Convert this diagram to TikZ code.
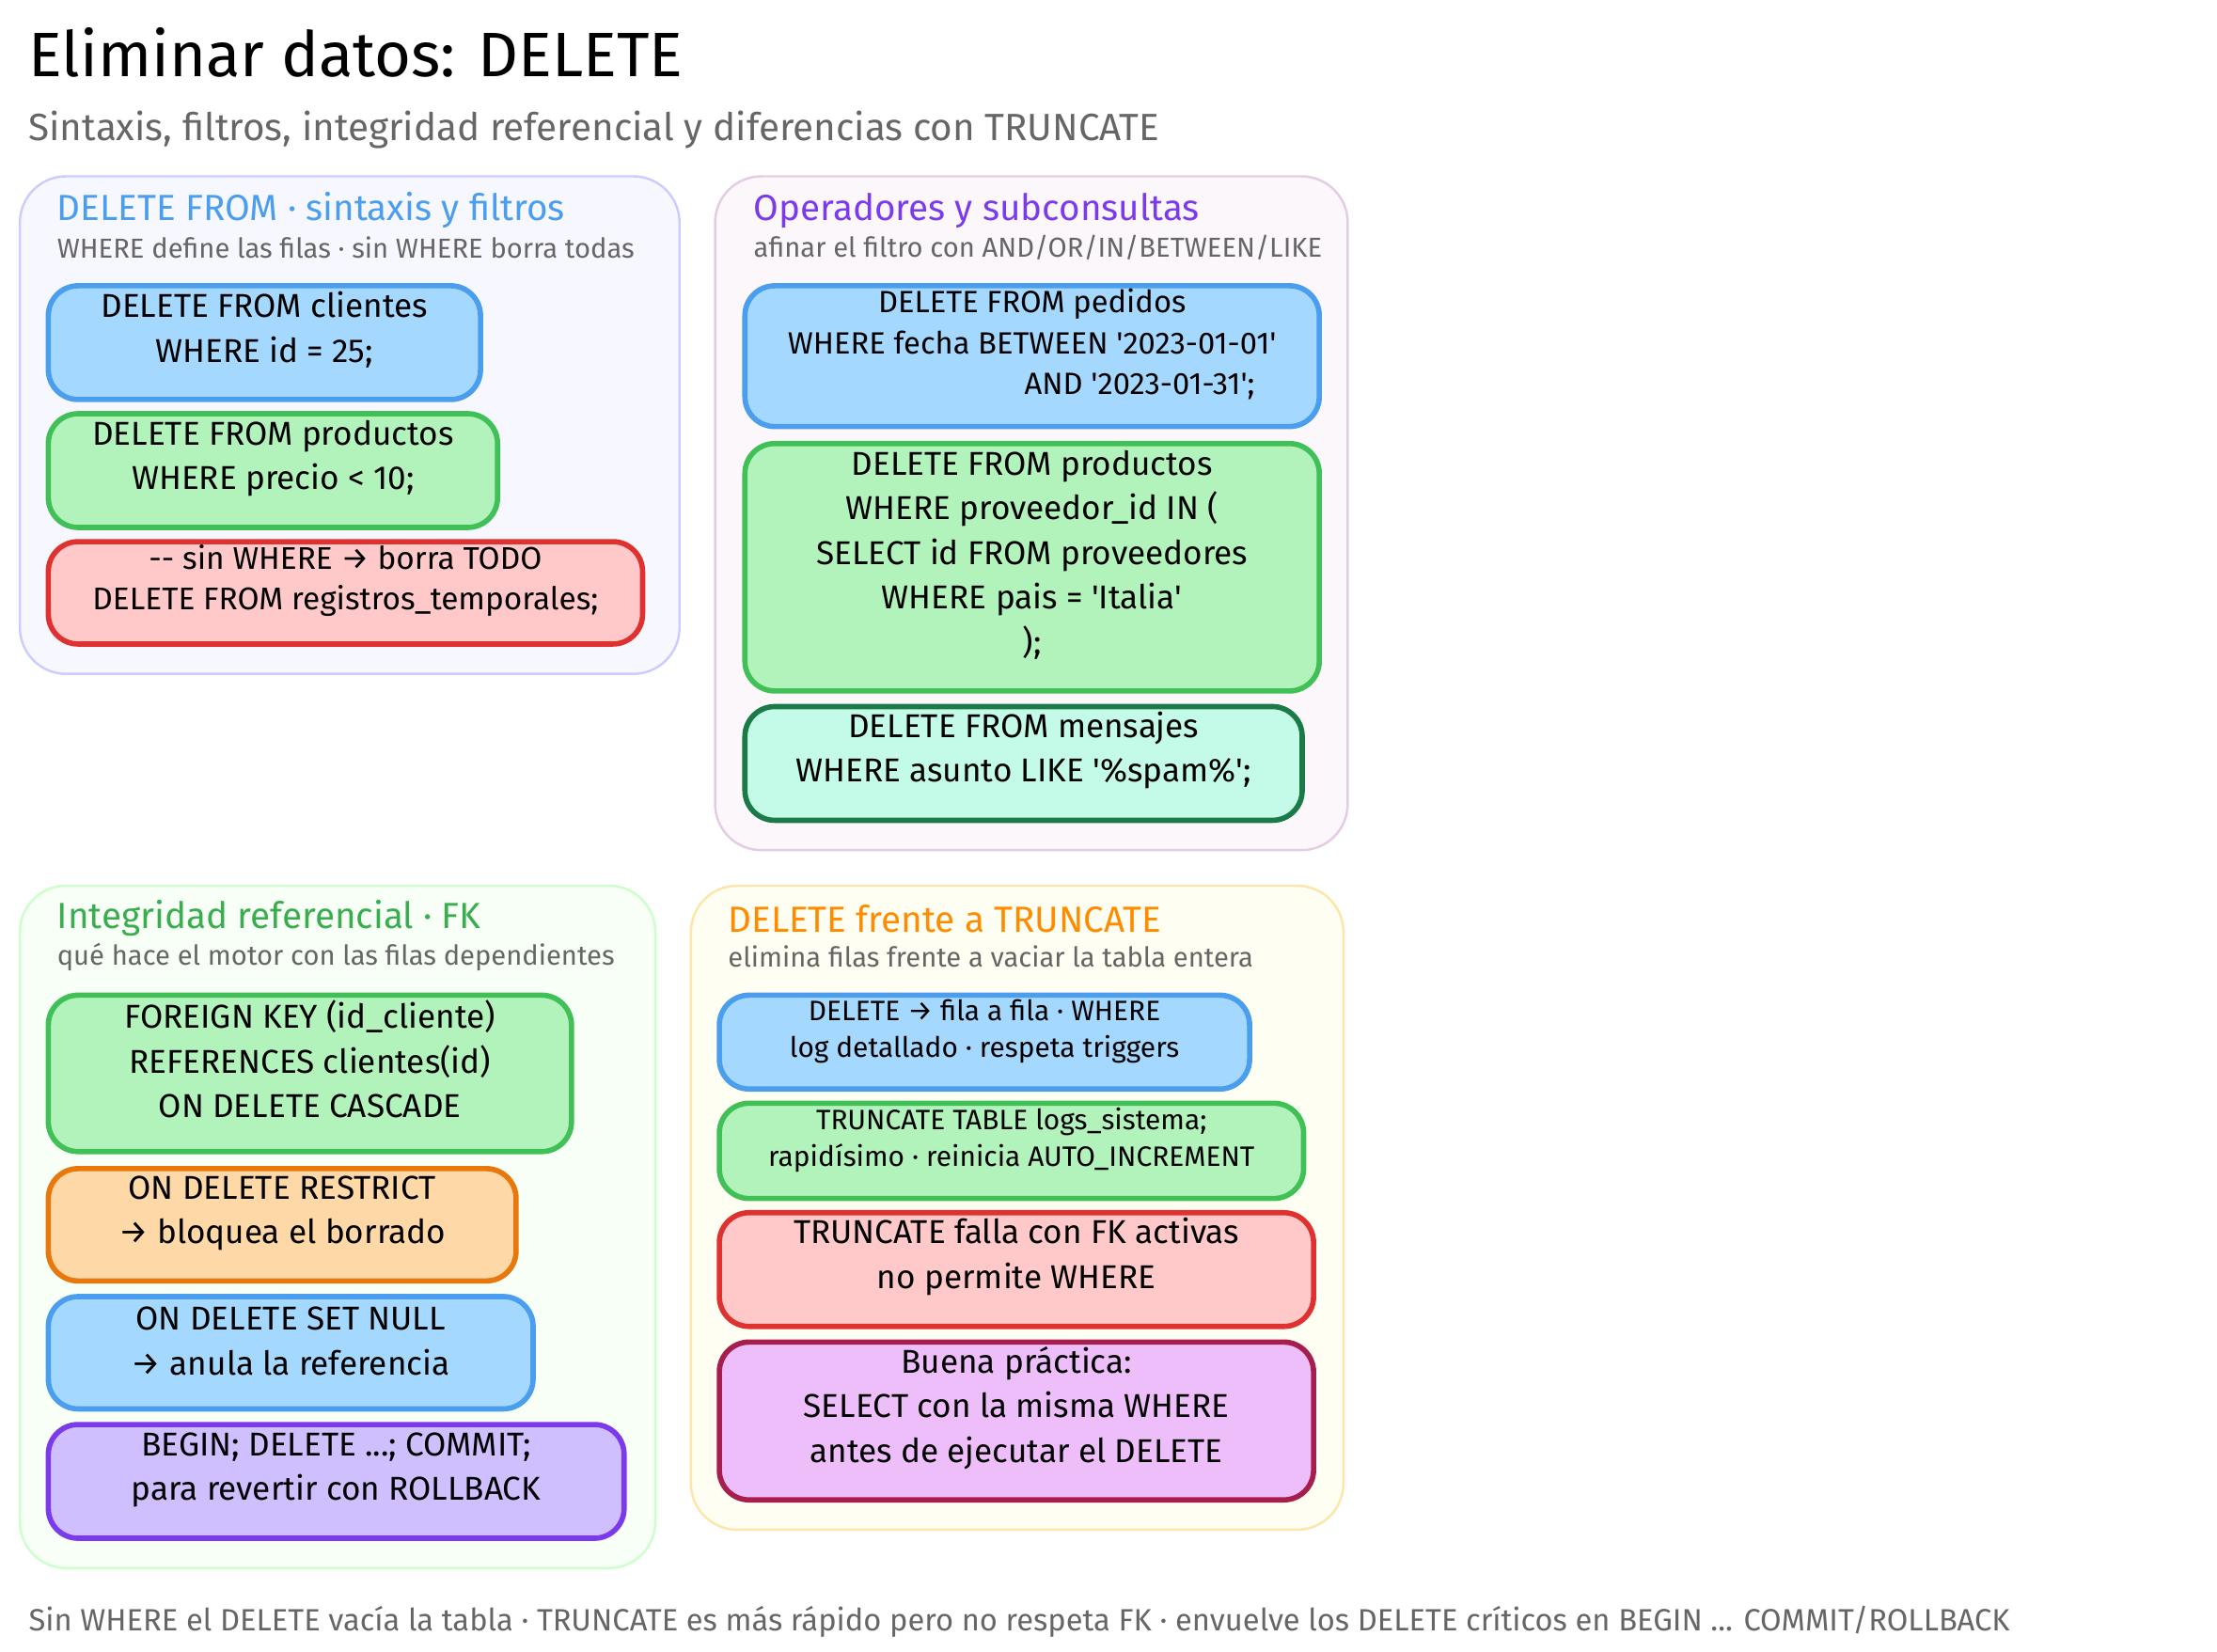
\documentclass[tikz,border=0pt]{standalone}
\usepackage{fontspec}
\setmainfont{Fira Sans}
\usetikzlibrary{fit}

\definecolor{bluefill}{HTML}{A5D8FF}\definecolor{blueline}{HTML}{4A9EED}
\definecolor{greenfill}{HTML}{B2F2BB}\definecolor{greenline}{HTML}{40C057}
\definecolor{redfill}{HTML}{FFC9C9}\definecolor{redline}{HTML}{E03131}
\definecolor{tealfill}{HTML}{C3FAE8}\definecolor{tealline}{HTML}{1B7A47}
\definecolor{orangefill}{HTML}{FFD8A8}\definecolor{orangeline}{HTML}{E8770C}
\definecolor{purplefill}{HTML}{D0BFFF}\definecolor{purpleline}{HTML}{7C3AED}
\definecolor{pinkfill}{HTML}{EEBEFA}\definecolor{pinkline}{HTML}{A61E4D}
\definecolor{txtgray}{HTML}{666666}
\newcommand{\qt}{{\XeTeXglyph\XeTeXcharglyph"0027\relax}}

\tikzset{
  panel/.style={inner sep=0pt, rounded corners=14pt, line width=0.7pt},
  card/.style={inner sep=0pt, rounded corners=9pt, line width=1.6pt, align=center, font=\fontsize{10}{13.5}\selectfont},
  small/.style={font=\fontsize{8.5}{11}\selectfont},
  ptitle/.style={anchor=west, font=\fontsize{11}{13}\selectfont},
  psub/.style={anchor=west, text=txtgray, font=\fontsize{8.3}{10}\selectfont},
}

\begin{document}
\begin{tikzpicture}[x=0.01512cm,y=-0.01512cm]
\useasboundingbox[fill=white] (0,0) rectangle (1559.5,1162);

\node[anchor=west, font=\fontsize{19}{22}\selectfont] (title) at (12,37) {Eliminar datos: DELETE};
\node[anchor=west, text=txtgray, font=\fontsize{11.5}{14}\selectfont] (subtitle) at (12,91) {Sintaxis, filtros, integridad referencial y diferencias con TRUNCATE};

% panels
\node[panel, draw=blue!20, fill=blue!3, fit={(14,124) (478,474)}] (p1) {};
\node[panel, draw=violet!20, fill=violet!3, fit={(503,124) (948,598)}] (p2) {};
\node[panel, draw=green!20, fill=green!3, fit={(14,623) (461,1103)}] (p3) {};
\node[panel, draw=yellow!40!orange!30, fill=yellow!5, fit={(486,623) (945,1076)}] (p4) {};

\node[ptitle, text=blueline] (t1) at (32,148) {DELETE FROM · sintaxis y filtros};
\node[psub] (s1) at (32,174) {WHERE define las filas · sin WHERE borra todas};
\node[ptitle, text=purpleline] (t2) at (522,148) {Operadores y subconsultas};
\node[psub] (s2) at (522,174) {afinar el filtro con AND/OR/IN/BETWEEN/LIKE};
\node[ptitle, text=greenline!90!black] (t3) at (32,646) {Integridad referencial · FK};
\node[psub] (s3) at (32,673) {qué hace el motor con las filas dependientes};
\node[ptitle, text=orange!90!yellow] (t4) at (504,646) {DELETE frente a TRUNCATE};
\node[psub] (s4) at (504,673) {elimina filas frente a vaciar la tabla entera};

% panel 1
\node[card, draw=blueline, fill=bluefill, fit={(34,201) (338,281)}] (c11) {DELETE FROM clientes\\WHERE id = 25;};
\node[card, draw=greenline, fill=greenfill, fit={(34,291) (350,371)}] (c12) {DELETE FROM productos\\WHERE precio < 10;};
\node[card, draw=redline, fill=redfill, fit={(34,381) (452,453)}, font=\fontsize{9.5}{12.5}\selectfont] (c13) {{-}{-} sin WHERE → borra TODO\\DELETE FROM registros\_temporales;};

% panel 2
\node[card, draw=blueline, fill=bluefill, fit={(524,201) (928,300)}, font=\fontsize{9.3}{12.5}\selectfont] (c21) {DELETE FROM pedidos\\WHERE fecha BETWEEN \qt2023-01-01\qt\\\hspace*{7em}AND \qt2023-01-31\qt;};
\node[card, draw=greenline, fill=greenfill, fit={(524,312) (928,486)}] (c22) {DELETE FROM productos\\WHERE proveedor\_id IN (\\SELECT id FROM proveedores\\WHERE pais = \qt Italia\qt\\);};
\node[card, draw=tealline, fill=tealfill, fit={(524,497) (916,577)}] (c23) {DELETE FROM mensajes\\WHERE asunto LIKE \qt\%spam\%\qt;};

% panel 3
\node[card, draw=greenline, fill=greenfill, fit={(34,700) (402,810)}] (c31) {FOREIGN KEY (id\_cliente)\\REFERENCES clientes(id)\\ON DELETE CASCADE};
\node[card, draw=orangeline, fill=orangefill, fit={(34,822) (363,901)}] (c32) {ON DELETE RESTRICT\\→ bloquea el borrado};
\node[card, draw=blueline, fill=bluefill, fit={(34,912) (375,991)}] (c33) {ON DELETE SET NULL\\→ anula la referencia};
\node[card, draw=purpleline, fill=purplefill, fit={(34,1002) (439,1082)}] (c34) {BEGIN; DELETE ...; COMMIT;\\para revertir con ROLLBACK};

% panel 4
\node[card, small, draw=blueline, fill=bluefill, fit={(506,700) (879,766)}] (c41) {DELETE → fila a fila · WHERE\\log detallado · respeta triggers};
\node[card, small, draw=greenline, fill=greenfill, fit={(506,776) (917,843)}] (c42) {TRUNCATE TABLE logs\_sistema;\\rapidísimo · reinicia AUTO\_INCREMENT};
\node[card, draw=redline, fill=redfill, fit={(506,853) (924,933)}] (c43) {TRUNCATE falla con FK activas\\no permite WHERE};
\node[card, draw=pinkline, fill=pinkfill, fit={(506,944) (924,1055)}] (c44) {Buena práctica:\\SELECT con la misma WHERE\\antes de ejecutar el DELETE};

\node[anchor=west, text=txtgray, font=\fontsize{9.3}{11}\selectfont] (foot) at (12,1141) {Sin WHERE el DELETE vacía la tabla · TRUNCATE es más rápido pero no respeta FK · envuelve los DELETE críticos en BEGIN ... COMMIT/ROLLBACK};
\end{tikzpicture}
\end{document}
